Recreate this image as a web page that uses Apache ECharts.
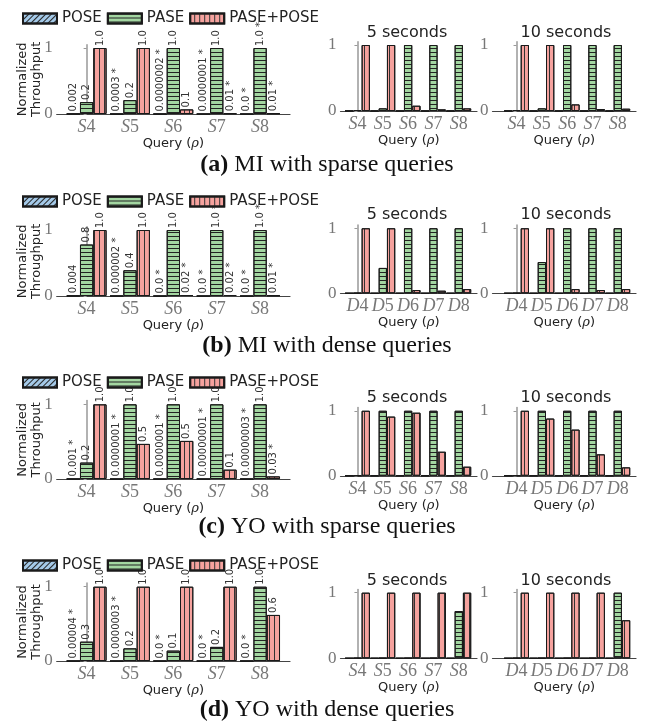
<!DOCTYPE html>
<html><head><meta charset="utf-8">
<script src="https://cdn.jsdelivr.net/npm/echarts@6/dist/echarts.min.js"></script>
<style>html,body{margin:0;padding:0;background:#fff}#c{width:646px;height:726px}</style>
</head><body><div id="c"></div>
<script>
// ---------- DATA ----------
const seriesNames = ['POSE', 'PASE', 'PASE+POSE'];
const catsS = ['S4', 'S5', 'S6', 'S7', 'S8'];
const catsD = ['D4', 'D5', 'D6', 'D7', 'D8'];
const panelTitles = ['5 seconds', '10 seconds'];
const captionTags = ['(a)', '(b)', '(c)', '(d)'];
const captionTexts = ['MI with sparse queries', 'MI with dense queries', 'YO with sparse queries', 'YO with dense queries'];

// (a) MI sparse
const aMainPOSE = [0.002, 0.0003, 0.0000002, 0.0000001, 0.0];
const aMainPASE = [0.18, 0.21, 1.0, 1.0, 1.0];
const aMainPP   = [1.0, 1.0, 0.07, 0.01, 0.01];
const aLabPOSE = ['0.002', '0.0003 *', '0.0000002 *', '0.0000001 *', '0.0 *'];
const aLabPASE = ['0.2', '0.2', '1.0', '1.0', '1.0 *'];
const aLabPP   = ['1.0', '1.0', '0.1', '0.01 *', '0.01 *'];
const a5POSE = [0.002, 0.002, 0.002, 0.002, 0.002];
const a5PASE = [0.015, 0.04, 1.0, 1.0, 1.0];
const a5PP   = [1.0, 1.0, 0.08, 0.025, 0.04];
const a10POSE = [0.002, 0.002, 0.002, 0.002, 0.002];
const a10PASE = [0.015, 0.04, 1.0, 1.0, 1.0];
const a10PP   = [1.0, 1.0, 0.1, 0.03, 0.035];

// (b) MI dense
const bMainPOSE = [0.004, 0.000002, 0.0, 0.0, 0.0];
const bMainPASE = [0.78, 0.39, 1.0, 1.0, 1.0];
const bMainPP   = [1.0, 1.0, 0.015, 0.015, 0.01];
const bLabPOSE = ['0.004', '0.000002 *', '0.0 *', '0.0 *', '0.0 *'];
const bLabPASE = ['0.8', '0.4', '1.0', '1.0 *', '1.0 *'];
const bLabPP   = ['1.0', '1.0', '0.02 *', '0.02 *', '0.01 *'];
const b5POSE = [0.002, 0.002, 0.002, 0.002, 0.002];
const b5PASE = [0.005, 0.39, 1.0, 1.0, 1.0];
const b5PP   = [1.0, 1.0, 0.05, 0.04, 0.065];
const b10POSE = [0.002, 0.002, 0.002, 0.002, 0.002];
const b10PASE = [0.005, 0.48, 1.0, 1.0, 1.0];
const b10PP   = [1.0, 1.0, 0.065, 0.05, 0.065];

// (c) YO sparse
const cMainPOSE = [0.001, 0.0000001, 0.0000001, 0.00000001, 0.00000003];
const cMainPASE = [0.22, 1.0, 1.0, 1.0, 1.0];
const cMainPP   = [1.0, 0.47, 0.51, 0.125, 0.035];
const cLabPOSE = ['0.001 *', '0.0000001 *', '0.0000001 *', '0.00000001 *', '0.00000003 *'];
const cLabPASE = ['0.2', '1.0', '1.0', '1.0', '1.0'];
const cLabPP   = ['1.0', '0.5', '0.5', '0.1', '0.03 *'];
const c5POSE = [0.002, 0.002, 0.002, 0.002, 0.002];
const c5PASE = [0.005, 1.0, 1.0, 1.0, 1.0];
const c5PP   = [1.0, 0.91, 0.97, 0.37, 0.14];
const c10POSE = [0.002, 0.002, 0.002, 0.002, 0.002];
const c10PASE = [0.005, 1.0, 1.0, 1.0, 1.0];
const c10PP   = [1.0, 0.88, 0.71, 0.33, 0.13];

// (d) YO dense
const dMainPOSE = [0.00004, 0.0000003, 0.0, 0.0, 0.0];
const dMainPASE = [0.26, 0.17, 0.14, 0.19, 1.0];
const dMainPP   = [1.0, 1.0, 1.0, 1.0, 0.62];
const dLabPOSE = ['0.00004 *', '0.0000003 *', '0.0 *', '0.0 *', '0.0 *'];
const dLabPASE = ['0.3', '0.2', '0.1', '0.2', '1.0'];
const dLabPP   = ['1.0', '1.0', '1.0', '1.0', '0.6'];
const d5POSE = [0.002, 0.002, 0.002, 0.002, 0.002];
const d5PASE = [0.005, 0.005, 0.005, 0.005, 0.72];
const d5PP   = [1.0, 1.0, 1.0, 1.0, 1.0];
const d10POSE = [0.002, 0.002, 0.002, 0.002, 0.002];
const d10PASE = [0.005, 0.005, 0.005, 0.005, 1.0];
const d10PP   = [1.0, 1.0, 1.0, 1.0, 0.58];

// ---------- LAYOUT / STYLE ----------
const rows = [
  { main: [aMainPOSE, aMainPASE, aMainPP], labs: [aLabPOSE, aLabPASE, aLabPP],
    p5: [a5POSE, a5PASE, a5PP], p10: [a10POSE, a10PASE, a10PP], c5: catsS, c10: catsS,
    mTop: 44.7, mH: 69.3, rTop: 41.7, rH: 69.3, legTop: 6, titleY: 33, capY: 165 },
  { main: [bMainPOSE, bMainPASE, bMainPP], labs: [bLabPOSE, bLabPASE, bLabPP],
    p5: [b5POSE, b5PASE, b5PP], p10: [b10POSE, b10PASE, b10PP], c5: catsD, c10: catsD,
    mTop: 226.7, mH: 69.3, rTop: 225, rH: 68.3, legTop: 189, titleY: 215, capY: 346 },
  { main: [cMainPOSE, cMainPASE, cMainPP], labs: [cLabPOSE, cLabPASE, cLabPP],
    p5: [c5POSE, c5PASE, c5PP], p10: [c10POSE, c10PASE, c10PP], c5: catsS, c10: catsD,
    mTop: 400.6, mH: 78.4, rTop: 407.5, rH: 68.3, legTop: 370, titleY: 398, capY: 527 },
  { main: [dMainPOSE, dMainPASE, dMainPP], labs: [dLabPOSE, dLabPASE, dLabPP],
    p5: [d5POSE, d5PASE, d5PP], p10: [d10POSE, d10PASE, d10PP], c5: catsS, c10: catsD,
    mTop: 583, mH: 78, rTop: 589.4, rH: 68.9, legTop: 553, titleY: 581, capY: 710 }
];

const styles = [
  { color: '#a4c9e8', decal: { symbol: 'rect', symbolSize: 1, dashArrayX: [1, 0], dashArrayY: [1, 3], rotation: -Math.PI / 4, color: '#222' } },
  { color: '#a3d6a1', decal: { symbol: 'rect', symbolSize: 1, dashArrayX: [1, 0], dashArrayY: [1, 3], rotation: 0, color: '#222' } },
  { color: '#f5a29e', decal: { symbol: 'rect', symbolSize: 1, dashArrayX: [1, 0], dashArrayY: [1, 3.3], rotation: Math.PI / 2, color: '#333' } }
];

const panelsGeo = {
  main: { left: 56.7, width: 233.3, min: -0.69, max: 4.69, barW: 13.3 },
  p5:   { left: 340.5, width: 136.5, min: -0.67, max: 4.72, barW: 8.3 },
  p10:  { left: 492.5, width: 143.5, min: -0.95, max: 4.72, barW: 8.3 }
};

const grids = [], xAxes = [], yAxes = [], series = [], legends = [], graphics = [];

function addPanel(kind, row, vals, cats, labs) {
  const g = panelsGeo[kind];
  const gi = grids.length;
  const isMain = kind === 'main';
  grids.push({ left: g.left, width: g.width, top: isMain ? row.mTop : row.rTop, height: isMain ? row.mH : row.rH, outerBoundsMode: 'none', containLabel: false });
  xAxes.push({
    type: 'value', gridIndex: gi, min: g.min, max: g.max,
    axisLine: { show: true, onZero: false, lineStyle: { color: '#444', width: 1.2 } },
    axisTick: { show: false }, splitLine: { show: false },
    axisLabel: {
      customValues: [0, 1, 2, 3, 4], margin: 4,
      formatter: v => { const c = cats[Math.round(v)]; return '{i|' + c[0] + '}{n|' + c.slice(1) + '}'; },
      rich: {
        i: { fontFamily: 'Liberation Serif', fontStyle: 'italic', fontSize: 18, color: '#777' },
        n: { fontFamily: 'Liberation Serif', fontStyle: 'normal', fontSize: 18, color: '#777' }
      }
    },
    name: 'Query ({r|ρ})', nameLocation: 'middle', nameGap: 23, nameMoveOverlap: false,
    nameTextStyle: { fontFamily: 'DejaVu Sans', fontSize: 13, color: '#222',
      rich: { r: { fontFamily: 'DejaVu Serif', fontStyle: 'italic', fontSize: 13, color: '#222' } } }
  });
  yAxes.push({
    type: 'value', gridIndex: gi, min: 0, max: 1.05,
    axisLine: { show: true, lineStyle: { color: '#999', width: 1.5 } },
    axisTick: { show: true, customValues: [0, 1], length: 3, lineStyle: { color: '#999' } },
    axisLabel: { customValues: [0, 1], fontFamily: 'Liberation Serif', fontSize: 17, color: '#777', margin: 4 },
    splitLine: { show: false },
    name: isMain ? 'Normalized\nThroughput' : '', nameLocation: 'middle', nameRotate: 90, nameGap: 13, nameMoveOverlap: false,
    nameTextStyle: { fontFamily: 'DejaVu Sans', fontSize: 13, lineHeight: 14, color: '#222' }
  });
  vals.forEach((arr, k) => {
    series.push({
      type: 'bar', name: seriesNames[k], xAxisIndex: gi, yAxisIndex: gi,
      data: arr.map((v, i) => [i, v]),
      barWidth: g.barW, barGap: '0%',
      itemStyle: { color: styles[k].color, decal: styles[k].decal, borderColor: '#1a1a1a', borderWidth: 1 },
      label: labs ? {
        show: true, position: 'top', rotate: 90, align: 'left', verticalAlign: 'middle', distance: 2,
        fontFamily: 'DejaVu Sans', fontSize: 10, color: '#333',
        formatter: p => labs[k][p.dataIndex]
      } : { show: false },
      emphasis: { disabled: true }, silent: true
    });
  });
}

rows.forEach((row, r) => {
  addPanel('main', row, row.main, catsS, row.labs);
  addPanel('p5', row, row.p5, row.c5, null);
  addPanel('p10', row, row.p10, row.c10, null);
  legends.push({
    top: row.legTop, left: 17, itemWidth: 34, itemHeight: 10, itemGap: 5, icon: 'rect',
    selectedMode: false, data: seriesNames,
    textStyle: { fontFamily: 'DejaVu Sans', fontSize: 15, color: '#222' }
  });
  graphics.push({ type: 'text', x: 407, y: row.titleY, style: { text: panelTitles[0], font: '16px "DejaVu Sans"', fill: '#222', align: 'center', verticalAlign: 'middle' } });
  graphics.push({ type: 'text', x: 566, y: row.titleY, style: { text: panelTitles[1], font: '16px "DejaVu Sans"', fill: '#222', align: 'center', verticalAlign: 'middle' } });
  graphics.push({ type: 'text', x: 327, y: row.capY, style: {
    text: '{b|' + captionTags[r] + '} ' + captionTexts[r], align: 'center', verticalAlign: 'middle',
    font: '24px "Liberation Serif"', fill: '#111',
    rich: { b: { font: 'bold 24px "Liberation Serif"', fill: '#111' } }
  } });
});

const chart = echarts.init(document.getElementById('c'), null, { renderer: 'canvas' });
chart.setOption({
  animation: false,
  backgroundColor: '#fff',
  grid: grids, xAxis: xAxes, yAxis: yAxes, series: series, legend: legends, graphic: graphics
});
</script>
</body></html>
